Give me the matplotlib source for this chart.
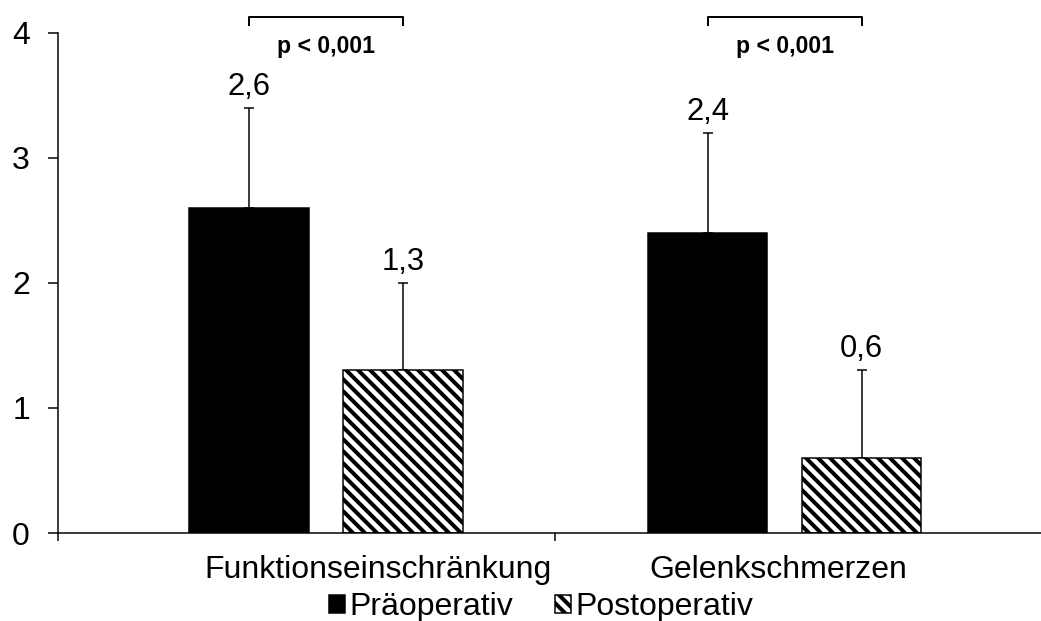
import matplotlib
matplotlib.use("Agg")
import matplotlib.pyplot as plt
import numpy as np

categories = ["Funktionseinschränkung", "Gelenkschmerzen"]
pre = [2.6, 2.4]
post = [1.3, 0.6]
pre_sd = [0.8, 0.8]
post_sd = [0.7, 0.7]
p_labels = ["p < 0,001", "p < 0,001"]
series = ["Präoperativ", "Postoperativ"]

plt.rcParams["font.family"] = ["Liberation Sans", "DejaVu Sans"]
plt.rcParams["hatch.linewidth"] = 4.0

# dpi 72 so that 1 pt == 1 px and the hatch spacing matches
fig = plt.figure(figsize=(1041 / 72, 621 / 72), dpi=72)
ax = fig.add_axes([0.0557, 0.1417, 0.9443, 0.8052])

centers = np.array([0.54, 1.462])
off = 0.155
w = 0.241
x_pre = centers - off
x_post = centers + off

ax.bar(x_pre, pre, w, color="black", edgecolor="black", linewidth=1.5,
       label=series[0], zorder=2)
ax.bar(x_post, post, w, color="white", edgecolor="black", linewidth=1.5,
       hatch="\\\\", label=series[1], zorder=2)

for xs, vals, sd in [(x_pre, pre, pre_sd), (x_post, post, post_sd)]:
    ax.errorbar(xs, vals, yerr=[np.zeros(len(sd)), sd], fmt="none",
                ecolor="black", elinewidth=1.5, capsize=5, capthick=1.5, zorder=1)
    for x, v, s in zip(xs, vals, sd):
        ax.text(x, v + s + 0.17, f"{v:.1f}".replace(".", ","), ha="center",
                va="center", fontsize=31)

# significance brackets
for i in range(len(categories)):
    x0, x1 = x_pre[i], x_post[i]
    ax.plot([x0, x0, x1, x1], [4.065, 4.13, 4.13, 4.065], color="black",
            lw=2, clip_on=False)
    ax.text(centers[i], 3.89, p_labels[i], ha="center", va="center",
            fontsize=23, fontweight="bold")

ax.set_xlim(0, 1.978)
ax.set_ylim(0, 4)
ax.set_yticks([0, 1, 2, 3, 4])
ax.tick_params(axis="y", labelsize=32, length=10, width=1.5, pad=18)
ax.set_xticks([0.644, 1.449])
ax.set_xticklabels(categories)
ax.tick_params(axis="x", labelsize=32, length=0, pad=22)
ax.set_xticks([0, 1.0], minor=True)
ax.tick_params(axis="x", which="minor", length=8, width=1.5)

for side in ["top", "right"]:
    ax.spines[side].set_visible(False)
for side in ["left", "bottom"]:
    ax.spines[side].set_linewidth(1.5)

fig.legend(loc="center", bbox_to_anchor=(0.52, 0.022),
           ncol=2, frameon=False, fontsize=32, handlelength=0.5, handleheight=0.5,
           handletextpad=0.15, columnspacing=1.3, borderaxespad=0, borderpad=0)

fig.savefig("out.png", dpi=72)
